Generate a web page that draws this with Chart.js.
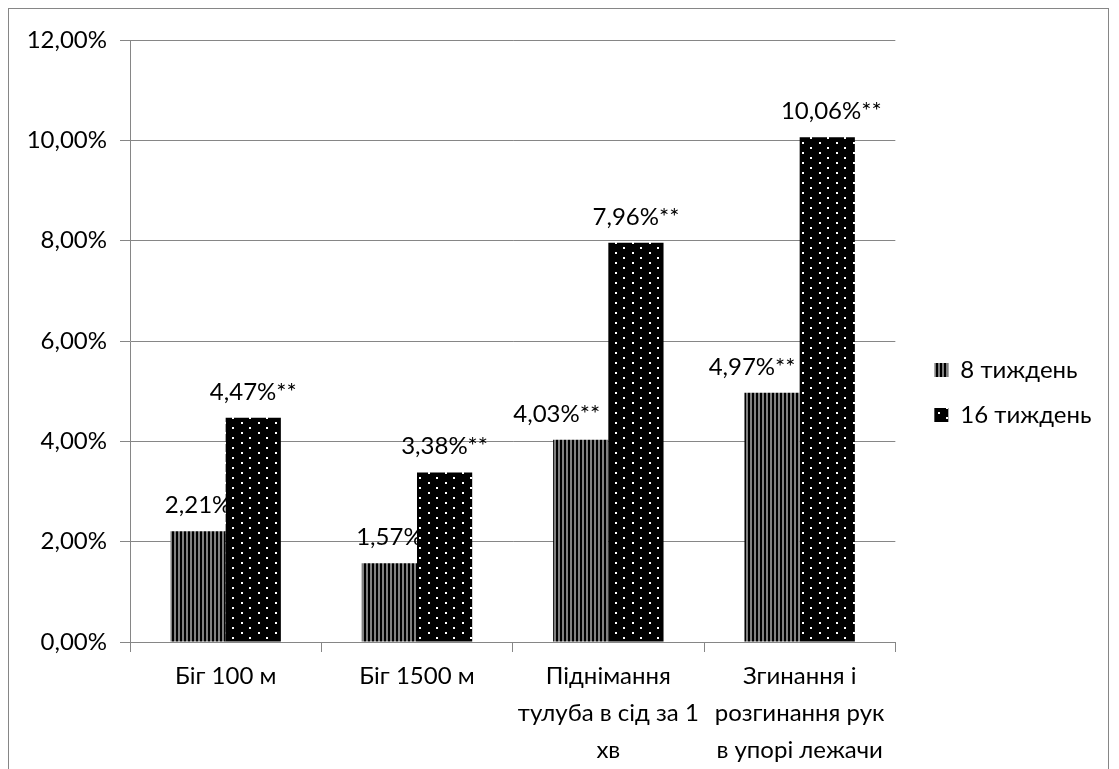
<!DOCTYPE html>
<html>
<head>
<meta charset="utf-8">
<script src="https://cdn.jsdelivr.net/npm/chart.js@4/dist/chart.umd.min.js"></script>
<style>
  html, body { margin: 0; padding: 0; background: #fff; }
  #wrap { width: 1119px; height: 769px; }
</style>
</head>
<body>
<div id="wrap"><canvas id="myChart" width="1119" height="769"></canvas></div>
<script>
// data
var categories = [
  'Біг 100 м',
  'Біг 1500 м',
  ['Піднімання', 'тулуба в сід за 1', 'хв'],
  ['Згинання і', 'розгинання рук', 'в упорі лежачи']
];
var week8 = [2.21, 1.57, 4.03, 4.97];
var week16 = [4.47, 3.38, 7.96, 10.06];
var stars8 = ['', '', '**', '**'];
var stars16 = ['**', '**', '**', '**'];
var yTicks = [0, 2, 4, 6, 8, 10, 12];

// label nudges (px) - in the original some labels were moved off the bar
var shift8 = [0, 0, -24, -20];
var shift16 = [0, 0, 0, 4];

var FONT = 'Lato';
var FS = 24;
var GRAY = '#868686';

function fmt(v) {
  return v.toFixed(2).replace('.', ',') + '%';
}

function stripes() {
  var c = document.createElement('canvas');
  c.width = 4; c.height = 4;
  var g = c.getContext('2d');
  g.fillStyle = '#000';
  g.fillRect(0, 0, 4, 4);
  g.fillStyle = '#808080';
  g.fillRect(2, 0, 2, 4);
  return g.createPattern(c, 'repeat');
}

function dots() {
  var c = document.createElement('canvas');
  c.width = 17; c.height = 10;
  var g = c.getContext('2d');
  g.fillStyle = '#000';
  g.fillRect(0, 0, 17, 10);
  g.fillStyle = '#fff';
  g.fillRect(3, 2, 2, 2);
  g.fillRect(11, 7, 2, 2);
  return g.createPattern(c, 'repeat');
}

function drawLabels(chart, idx, vals, stars, shift) {
  var ctx = chart.ctx;
  var meta = chart.getDatasetMeta(idx);
  ctx.save();
  ctx.font = FS + 'px ' + FONT;
  ctx.fillStyle = '#000';
  ctx.textAlign = 'center';
  ctx.textBaseline = 'alphabetic';
  meta.data.forEach(function (bar, i) {
    ctx.fillText(fmt(vals[i]) + stars[i], bar.x + shift[i], bar.y - 18);
  });
  ctx.restore();
}

var labelsPlugin = {
  id: 'barLabels',
  beforeDatasetsDraw: function (chart) {
    // under the 16-week bars, like in the original
    drawLabels(chart, 0, week8, stars8, shift8);
  },
  afterDatasetsDraw: function (chart) {
    drawLabels(chart, 1, week16, stars16, shift16);
  }
};

var framePlugin = {
  id: 'frame',
  afterLayout: function (chart) {
    // legend sits a bit above the middle in the original
    chart.legend.top -= 12;
    chart.legend.bottom -= 12;
  },
  beforeDraw: function (chart) {
    var ctx = chart.ctx;
    ctx.save();
    ctx.strokeStyle = GRAY;
    ctx.lineWidth = 1;
    ctx.strokeRect(8.5, 8.5, 1100, 800);
    ctx.restore();
  }
};

Chart.defaults.font.family = FONT;
Chart.defaults.font.size = FS;
Chart.defaults.color = '#000';

var ctx = document.getElementById('myChart');

var myChart = new Chart(ctx, {
  type: 'bar',
  data: {
    labels: categories,
    datasets: [
      {
        label: '8 тиждень',
        data: week8,
        backgroundColor: stripes(),
        borderWidth: 0,
        categoryPercentage: 0.577,
        barPercentage: 1
      },
      {
        label: '16 тиждень',
        data: week16,
        backgroundColor: dots(),
        borderWidth: 0,
        categoryPercentage: 0.577,
        barPercentage: 1
      }
    ]
  },
  options: {
    responsive: false,
    animation: false,
    layout: { padding: { top: 40, right: 23, bottom: 0, left: 0 } },
    plugins: {
      tooltip: { enabled: false },
      legend: {
        position: 'right',
        labels: {
          boxWidth: 14,
          boxHeight: 14,
          padding: 21,
          font: { size: FS, family: FONT }
        }
      }
    },
    scales: {
      x: {
        grid: {
          display: true,
          drawOnChartArea: false,
          color: GRAY,
          tickLength: 10
        },
        border: { display: true, color: GRAY },
        ticks: {
          padding: 6,
          maxRotation: 0,
          autoSkip: false,
          font: { size: FS, family: FONT, lineHeight: '37px' }
        },
        afterFit: function (s) { s.height = 127; }
      },
      y: {
        min: 0,
        max: 12,
        afterBuildTicks: function (s) {
          s.ticks = yTicks.map(function (v) { return { value: v }; });
        },
        grid: { color: GRAY, tickLength: 10 },
        border: { display: true, color: GRAY },
        ticks: {
          padding: 13,
          callback: function (v) { return fmt(v); }
        },
        afterFit: function (s) { s.width = 130; }
      },
      gap: {
        type: 'linear',
        position: 'right',
        display: true,
        grid: { display: false },
        border: { display: false },
        ticks: { display: false },
        afterFit: function (s) { s.width = 18; }
      }
    }
  },
  plugins: [framePlugin, labelsPlugin]
});
</script>
</body>
</html>
